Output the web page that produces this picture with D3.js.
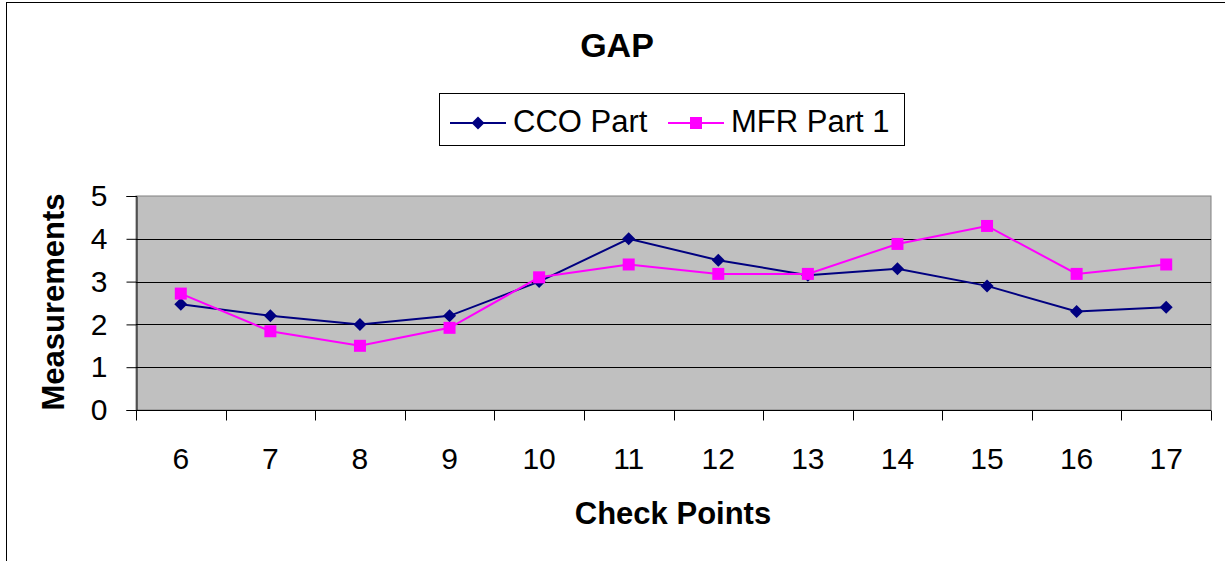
<!DOCTYPE html>
<html>
<head>
<meta charset="utf-8">
<script src="https://cdn.jsdelivr.net/npm/d3@7"></script>
<style>
  body { margin: 0; background: #fff; }
  svg { font-family: "Liberation Sans", Arial, sans-serif; }
</style>
</head>
<body>
<svg id="chart"></svg>
<script>
const checkPoints = [6, 7, 8, 9, 10, 11, 12, 13, 14, 15, 16, 17]
const ccoPart = [2.47, 2.2, 2.0, 2.2, 3.0, 4.0, 3.5, 3.15, 3.3, 2.9, 2.3, 2.4]
const mfrPart1 = [2.72, 1.84, 1.5, 1.92, 3.1, 3.4, 3.18, 3.18, 3.88, 4.3, 3.18, 3.4]
const yTicks = [0, 1, 2, 3, 4, 5]

const width = 1225
const height = 561
const fontSize = 30

const plot = { left: 136, right: 1211, top: 196, bottom: 410 }

const svg = d3.select('#chart')
    .attr('width', width)
    .attr('height', height)

// outer chart frame
svg.append('rect')
    .attr('x', 6.5)
    .attr('y', 2.5)
    .attr('width', width + 10)
    .attr('height', height + 10)
    .attr('fill', '#fff')
    .attr('stroke', '#000')

const x = d3.scaleBand()
    .domain(checkPoints)
    .range([plot.left, plot.right])

const y = d3.scaleLinear()
    .domain([0, 5])
    .range([plot.bottom, plot.top])

// plot area
svg.append('rect')
    .attr('x', plot.left)
    .attr('y', plot.top)
    .attr('width', plot.right - plot.left)
    .attr('height', plot.bottom - plot.top)
    .attr('fill', '#c0c0c0')
    .attr('stroke', '#808080')

// gridlines
svg.selectAll('.grid')
    .data(yTicks.filter(d => d > 0 && d < 5))
    .enter()
    .append('line')
    .attr('x1', plot.left)
    .attr('x2', plot.right)
    .attr('y1', d => Math.round(y(d)) + 0.5)
    .attr('y2', d => Math.round(y(d)) + 0.5)
    .attr('stroke', '#000')

// y axis
const yAxis = svg.append('g')
    .attr('transform', `translate(${plot.left + 0.5},0)`)
    .call(d3.axisLeft(y).tickValues(yTicks).tickFormat(d3.format('d')).tickSize(10).tickPadding(19))
yAxis.select('.domain').attr('stroke', '#000')
yAxis.selectAll('line').attr('stroke', '#000')
yAxis.selectAll('text')
    .attr('font-size', fontSize)
    .attr('fill', '#000')
    .attr('font-family', '"Liberation Sans", Arial, sans-serif')

// x axis: ticks between categories, labels centred
const xAxisG = svg.append('g')
    .attr('transform', `translate(0,${plot.bottom + 0.5})`)

xAxisG.append('line')
    .attr('x1', plot.left)
    .attr('x2', plot.right)
    .attr('stroke', '#000')

const boundaries = checkPoints.map(d => x(d)).concat([x.range()[1]])
xAxisG.selectAll('.xtick')
    .data(boundaries)
    .enter()
    .append('line')
    .attr('x1', d => Math.round(d) + 0.5)
    .attr('x2', d => Math.round(d) + 0.5)
    .attr('y1', 0)
    .attr('y2', 10)
    .attr('stroke', '#000')

xAxisG.selectAll('.xlabel')
    .data(checkPoints)
    .enter()
    .append('text')
    .attr('x', d => x(d) + x.bandwidth() / 2)
    .attr('y', 468 - plot.bottom)
    .attr('text-anchor', 'middle')
    .attr('font-size', fontSize)
    .text(d => d)

// lines
const line = d3.line()
    .x((d, i) => x(checkPoints[i]) + x.bandwidth() / 2)
    .y(d => y(d))

const series = [
    { name: 'CCO Part', values: ccoPart, color: '#000080', marker: 'diamond' },
    { name: 'MFR Part 1', values: mfrPart1, color: '#ff00ff', marker: 'square' }
]

const markerPath = m => m === 'diamond'
    ? 'M0,-6.5L6.5,0L0,6.5L-6.5,0Z'
    : 'M-6,-6H6V6H-6Z'

series.forEach(s => {
    svg.append('path')
        .datum(s.values)
        .attr('d', line)
        .attr('fill', 'none')
        .attr('stroke', s.color)
        .attr('stroke-width', 2)

    svg.selectAll(null)
        .data(s.values)
        .enter()
        .append('path')
        .attr('transform', (d, i) => `translate(${x(checkPoints[i]) + x.bandwidth() / 2},${y(d)})`)
        .attr('d', markerPath(s.marker))
        .attr('fill', s.color)
})

// title
svg.append('text')
    .attr('x', 617)
    .attr('y', 57)
    .attr('text-anchor', 'middle')
    .attr('font-size', 34)
    .attr('font-weight', 'bold')
    .text('GAP')

// axis titles
svg.append('text')
    .attr('x', 673)
    .attr('y', 524)
    .attr('text-anchor', 'middle')
    .attr('font-size', 31)
    .attr('font-weight', 'bold')
    .text('Check Points')

svg.append('text')
    .attr('transform', 'translate(64,302) rotate(-90)')
    .attr('text-anchor', 'middle')
    .attr('font-size', 31)
    .attr('font-weight', 'bold')
    .text('Measurements')

// legend
svg.append('rect')
    .attr('x', 439.5)
    .attr('y', 93.5)
    .attr('width', 465)
    .attr('height', 52)
    .attr('fill', '#fff')
    .attr('stroke', '#000')

const legendItems = [
    { s: series[0], x0: 450, tx: 513 },
    { s: series[1], x0: 668, tx: 731 }
]
legendItems.forEach(it => {
    svg.append('line')
        .attr('x1', it.x0)
        .attr('x2', it.x0 + 56)
        .attr('y1', 123)
        .attr('y2', 123)
        .attr('stroke', it.s.color)
        .attr('stroke-width', 2)
    svg.append('path')
        .attr('transform', `translate(${it.x0 + 28},123)`)
        .attr('d', markerPath(it.s.marker))
        .attr('fill', it.s.color)
    svg.append('text')
        .attr('x', it.tx)
        .attr('y', 132)
        .attr('font-size', 31)
        .text(it.s.name)
})
</script>
</body>
</html>
